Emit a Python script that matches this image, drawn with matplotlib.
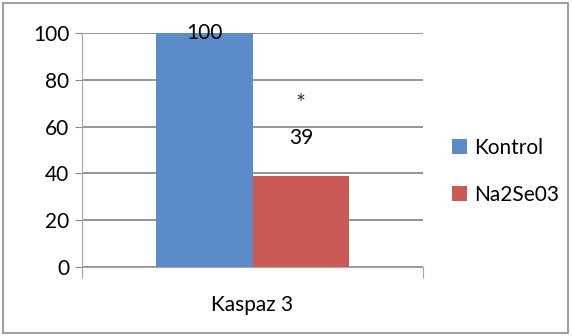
import numpy as np
import matplotlib.pyplot as plt
from matplotlib.patches import Rectangle

categories = ['Kaspaz 3']
series = ['Kontrol', 'Na2Se03']
values = [100, 39]
colors = ['#5b8bc9', '#cb5a57']
yticks = [0, 20, 40, 60, 80, 100]

plt.rcParams['font.family'] = ['Lato', 'DejaVu Sans']

fig = plt.figure(figsize=(5.72, 3.36), dpi=100)
ax = fig.add_axes([82/572, 1-267/336, 341/572, 234/336])

w = 0.284
x = np.arange(len(categories))
for i, (name, v, c) in enumerate(zip(series, values, colors)):
    ax.bar(x + (i - 0.5) * w, [v], w, color=c, label=name, zorder=3)

ax.set_xlim(-0.5, 0.5)
ax.set_ylim(0, 100)
ax.set_yticks(yticks)
ax.yaxis.grid(True, color='#8c8c8c', lw=1.3, zorder=0)
for s in ['top', 'right']:
    ax.spines[s].set_visible(False)
ax.spines['left'].set_color('#a6a6a6')
ax.spines['bottom'].set_color('#a6a6a6')
ax.tick_params(axis='y', length=5, color='#8c8c8c', labelsize=15, pad=4)
ax.set_xticks([-0.5, 0.5])
ax.set_xticklabels(['', ''])
ax.tick_params(axis='x', length=8, color='#a6a6a6')
ax.text(0, -12, categories[0], ha='center', va='top', fontsize=15)

# data labels
ax.text(-0.5 * w, values[0], str(values[0]), ha='center', va='center', fontsize=15)
ax.text(0.5 * w, values[1] + 16, str(values[1]), ha='center', va='center', fontsize=15)
ax.text(0.5 * w, values[1] + 31, '*', ha='center', va='center', fontsize=17, color='#333333')

leg = ax.legend(loc='center left', bbox_to_anchor=(1.03, 0.41), frameon=False,
                fontsize=15, handlelength=0.7, handleheight=0.7, handletextpad=0.35,
                labelspacing=1.3)

fig.patches.append(Rectangle((3/572, 3/336), 565/572, 330/336, transform=fig.transFigure,
                             fill=False, edgecolor='#8c8c8c', lw=1.2))

fig.savefig('out.png', dpi=100)
